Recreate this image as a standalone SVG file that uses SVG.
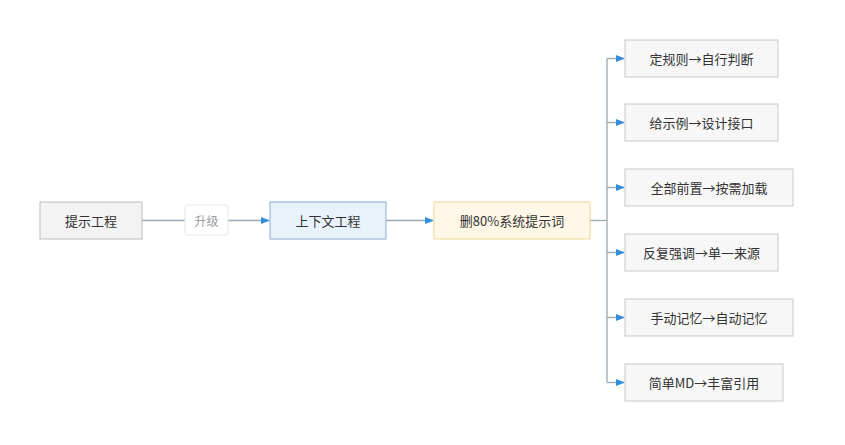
<svg xmlns="http://www.w3.org/2000/svg" width="845" height="445" viewBox="0 0 845 445">
<style>
text{font-family:"Noto Sans CJK SC","Noto Sans",sans-serif;font-size:13px;fill:#333;text-anchor:middle;dominant-baseline:central}
.b{fill:#f7f7f7;stroke:#c8c8c8;stroke-width:1}
.c{fill:none;stroke:#9aa9b0;stroke-width:1.3}
</style>
<defs><marker id="a" viewBox="0 0 10 10" refX="9" refY="5" markerWidth="7" markerHeight="7" orient="auto"><path d="M0,1 L10,5 L0,9 z" fill="#2f8fdc"/></marker></defs>
<rect width="845" height="445" fill="#fff"/>
<g id="connectors">
<path class="c" d="M142,220.5 H185"/>
<path class="c" d="M228,220.5 H269" marker-end="url(#a)"/>
<path class="c" d="M386,220.5 H433" marker-end="url(#a)"/>
<path class="c" d="M590,220.5 H607"/>
<path class="c" d="M607,58.5 V382.5"/>
<path class="c" d="M607,58.5 H624" marker-end="url(#a)"/>
<path class="c" d="M607,122.5 H624" marker-end="url(#a)"/>
<path class="c" d="M607,187.5 H624" marker-end="url(#a)"/>
<path class="c" d="M607,252.5 H624" marker-end="url(#a)"/>
<path class="c" d="M607,317.5 H624" marker-end="url(#a)"/>
<path class="c" d="M607,382.5 H624" marker-end="url(#a)"/>
</g>
<g id="n1"><rect x="40" y="202" width="102" height="37" fill="#f3f3f3" stroke="#bdbdbd"/><text x="91" y="220.5">提示工程</text></g>
<g id="lbl"><rect x="185" y="205" width="43" height="30" rx="3" fill="#fff" stroke="#e6e6e6"/><text x="206.5" y="220" style="font-size:12px;fill:#999">升级</text></g>
<g id="n2"><rect x="270" y="202" width="116" height="37" fill="#e7f2fa" stroke="#8aaad6"/><text x="328" y="220.5">上下文工程</text></g>
<g id="n3"><rect x="434" y="202" width="156" height="37" fill="#fff8e6" stroke="#ecd595"/><text x="512" y="220.5">删80%系统提示词</text></g>
<g id="r1"><rect class="b" x="625" y="40" width="153" height="37"/><text x="701.5" y="58.5">定规则→自行判断</text></g>
<g id="r2"><rect class="b" x="625" y="104" width="153" height="37"/><text x="701.5" y="122.5">给示例→设计接口</text></g>
<g id="r3"><rect class="b" x="625" y="169" width="168" height="37"/><text x="709" y="187.5">全部前置→按需加载</text></g>
<g id="r4"><rect class="b" x="625" y="234" width="153" height="37"/><text x="701.5" y="252.5">反复强调→单一来源</text></g>
<g id="r5"><rect class="b" x="625" y="299" width="168" height="37"/><text x="709" y="317.5">手动记忆→自动记忆</text></g>
<g id="r6"><rect class="b" x="625" y="364" width="158" height="37"/><text x="704" y="382.5">简单MD→丰富引用</text></g>
</svg>
